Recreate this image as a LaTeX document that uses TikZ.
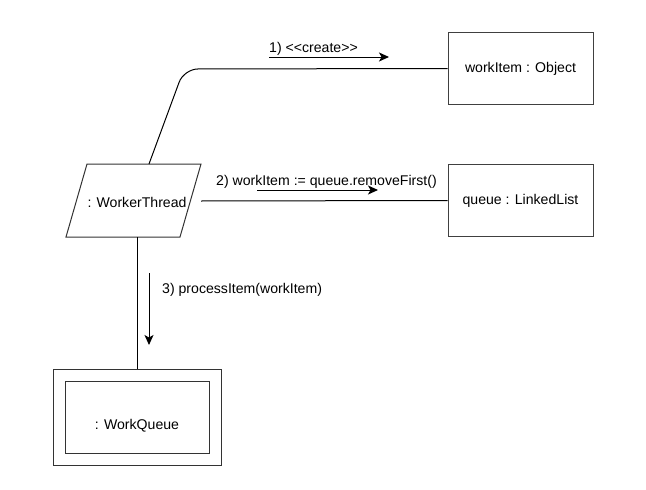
\documentclass[tikz,border=0pt]{standalone}
\usepackage{fontspec}
\setmainfont{Liberation Sans}
\usetikzlibrary{arrows.meta}
\begin{document}
\begin{tikzpicture}[x=1pt,y=-1pt,
  every node/.style={font=\fontsize{14.1}{16}\selectfont, inner sep=0pt},
  objbox/.style={draw=black!75, line width=1pt, rectangle, minimum width=145pt, minimum height=72pt},
  conn/.style={draw=black, line width=1pt},
  msg/.style={draw=black, line width=1pt, -{Stealth[length=10pt,width=9pt,inset=2.5pt]}}]
\useasboundingbox (0,0) rectangle (646,490);
\fill[white] (0,0) rectangle (646,490);
% objects
\node[objbox] (obj) at (520.5,68.5) {workItem : Object};
\node[objbox] (queue) at (520.5,200.5) {queue : LinkedList};
% worker thread parallelogram
\coordinate (p1) at (87,164);
\coordinate (p2) at (201,164);
\coordinate (p3) at (180,237);
\coordinate (p4) at (66,237);
\draw[draw=black!80, line width=1pt] (p1) -- (p2) -- (p3) -- (p4) -- cycle;
\node (wt) at (137,202) {: WorkerThread};
\coordinate (wtTop) at (149,164);
\coordinate (wtRight) at (201,201);
\coordinate (wtBot) at (137,237);
% work queue
\node[draw=black!80, line width=1pt, minimum width=168pt, minimum height=96pt] (wqo) at (137,417) {};
\node[draw=black!80, line width=1pt, minimum width=144pt, minimum height=72pt] (wqi) at (137,417) {};
\node at (137,426) {: WorkQueue};
% connectors
\coordinate (bend) at (184,69);
\draw[conn, rounded corners=14pt] (wtTop) -- (bend) -- (obj.west);
\draw[conn] (wtRight) -- (queue.west);
\draw[conn] (wtBot) -- (wqo.north);
% messages
\coordinate (m1s) at (269,57); \coordinate (m1e) at (389,57);
\draw[msg] (m1s) -- (m1e);
\node[anchor=base west] (l1) at (269,52) {1) {<}{<}create{>}{>}};
\coordinate (m2s) at (257,190); \coordinate (m2e) at (378,190);
\draw[msg] (m2s) -- (m2e);
\node[anchor=base west] (l2) at (216,185) {2) workItem := queue.removeFirst()};
\coordinate (m3s) at (149,273); \coordinate (m3e) at (149,345);
\draw[msg] (m3s) -- (m3e);
\node[anchor=base west] (l3) at (162,293) {3) processItem(workItem)};
\end{tikzpicture}
\end{document}
